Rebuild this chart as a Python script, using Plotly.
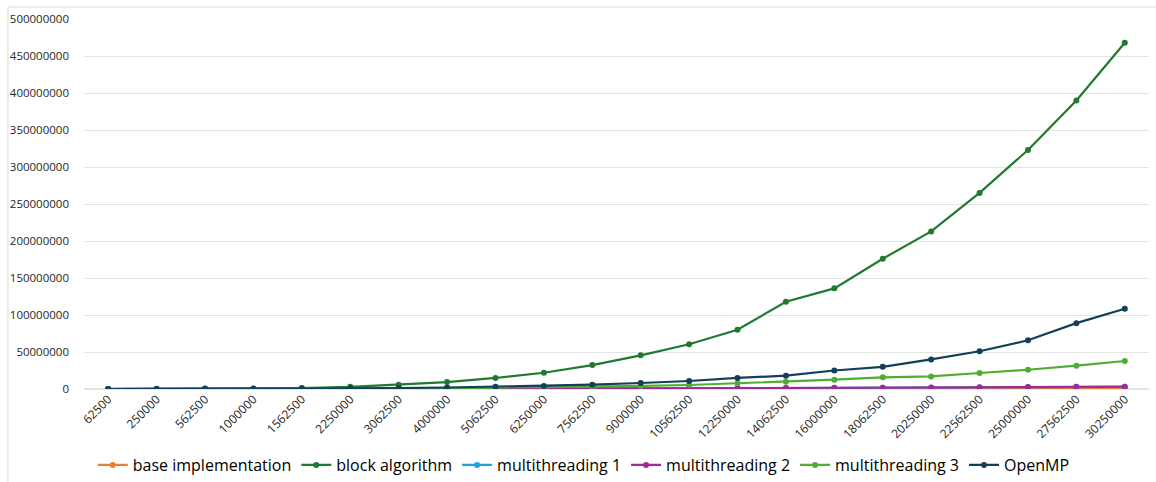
import plotly.graph_objects as go

# Problem sizes (x categories)
categories = [62500, 250000, 562500, 1000000, 1562500, 2250000, 3062500, 4000000,
              5062500, 6250000, 7562500, 9000000, 10562500, 12250000, 14062500,
              16000000, 18062500, 20250000, 22562500, 25000000, 27562500, 30250000]

base_implementation = [2000, 10000, 30000, 50000, 80000, 120000, 160000, 210000,
                       260000, 320000, 380000, 450000, 520000, 600000, 700000,
                       800000, 900000, 1000000, 1100000, 1200000, 1350000, 1500000]

block_algorithm = [60000, 300000, 700000, 800000, 1300000, 3000000, 5800000, 9400000,
                   14900000, 22000000, 32300000, 45500000, 60500000, 80000000, 118000000,
                   136000000, 176000000, 213000000, 265000000, 323000000, 390000000, 468000000]

multithreading_1 = [4000, 18000, 45000, 80000, 125000, 180000, 250000, 320000,
                    410000, 510000, 630000, 760000, 900000, 1080000, 1260000,
                    1440000, 1620000, 1800000, 2070000, 2340000, 2610000, 2880000]

multithreading_2 = [5000, 20000, 50000, 90000, 140000, 200000, 280000, 360000,
                    460000, 570000, 700000, 850000, 1000000, 1200000, 1400000,
                    1600000, 1800000, 2000000, 2300000, 2600000, 2900000, 3200000]

multithreading_3 = [10000, 50000, 100000, 200000, 300000, 500000, 800000, 1200000,
                    1800000, 2400000, 3200000, 4200000, 5400000, 7700000, 9900000,
                    12600000, 15800000, 17000000, 21600000, 26000000, 31500000, 37800000]

openmp = [20000, 80000, 200000, 400000, 600000, 900000, 1300000, 2000000,
          3000000, 4000000, 5900000, 8100000, 10800000, 14900000, 18000000,
          25000000, 30000000, 40000000, 51000000, 65800000, 89000000, 108500000]

y_ticks = [0, 50000000, 100000000, 150000000, 200000000, 250000000,
           300000000, 350000000, 400000000, 450000000, 500000000]

series = [
    ("base implementation", base_implementation, "#ED7D31"),
    ("block algorithm", block_algorithm, "#1F7A30"),
    ("multithreading 1", multithreading_1, "#1CA4DC"),
    ("multithreading 2", multithreading_2, "#A02B98"),
    ("multithreading 3", multithreading_3, "#4FAE32"),
    ("OpenMP", openmp, "#12405A"),
]

x_labels = [str(c) for c in categories]

fig = go.Figure()
for name, values, color in series:
    fig.add_trace(go.Scatter(
        x=x_labels, y=values, name=name, mode="lines+markers",
        line=dict(color=color, width=2.2),
        marker=dict(color=color, size=6),
    ))

fig.update_layout(
    width=1156, height=482,
    margin=dict(l=84, r=7, t=19, b=93),
    paper_bgcolor="white", plot_bgcolor="white",
    font=dict(family="Open Sans", size=11, color="#262626"),
    showlegend=True,
    legend=dict(
        orientation="h", xref="container", x=0.505, xanchor="center",
        yref="container", y=0.0, yanchor="bottom",
        font=dict(family="Open Sans", size=16, color="#000000"),
        itemwidth=30, traceorder="normal",
    ),
    xaxis=dict(
        type="category", range=[-0.5, len(categories) - 0.5],
        tickangle=-45, showgrid=False, showline=False, ticks="",
        tickfont=dict(family="Open Sans", size=12, color="#262626"),
    ),
    yaxis=dict(
        range=[0, 500000000], tickvals=y_ticks, tickformat="d",
        showgrid=True, gridcolor="#E3E3E3", gridwidth=1,
        zeroline=True, zerolinecolor="#E3E3E3", zerolinewidth=2,
        showline=False, ticks="", ticklabelstandoff=14,
        tickfont=dict(family="Open Sans", size=11.5, color="#262626"),
    ),
    shapes=[dict(
        type="rect", xref="paper", yref="paper",
        x0=-0.0714, x1=1.02, y0=-0.3, y1=1.0324,
        line=dict(color="#D9D9D9", width=1), fillcolor="rgba(0,0,0,0)",
        layer="below",
    )],
)

fig.write_html("out.html")
